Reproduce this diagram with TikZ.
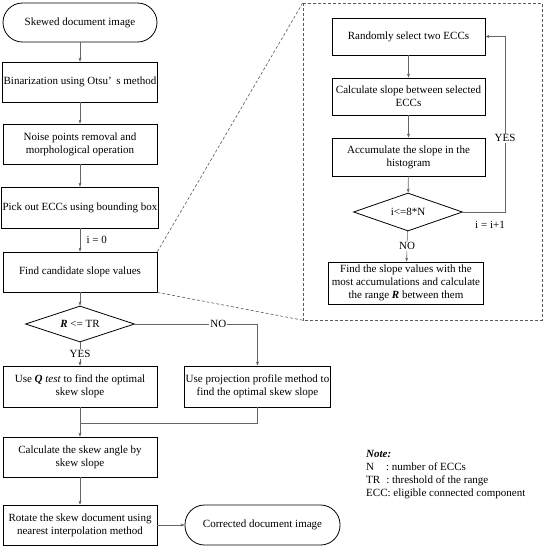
\documentclass[tikz,border=0pt]{standalone}
\usepackage{fontspec}
\setmainfont{Liberation Serif}
\usetikzlibrary{shapes.geometric,arrows.meta}
\begin{document}
\begin{tikzpicture}[x=1pt,y=-1pt,
  txt/.style={font=\fontsize{11}{13}\selectfont},
  box/.style={txt,draw=black,line width=0.8pt,rectangle,align=center,inner sep=1pt,minimum width=154pt,minimum height=40pt},
  term/.style={box,rounded corners=19.5pt},
  decis/.style={txt,draw=black,line width=0.8pt,diamond,aspect=2.9,inner sep=0pt},
  conn/.style={draw=black!60,line width=0.6pt,-{Stealth[length=4pt,width=3pt,fill=black]}},
  plain/.style={draw=black!60,line width=0.6pt},
  lbl/.style={txt,fill=white,inner sep=1pt},
  zoomline/.style={draw=black!65,line width=0.6pt,dash pattern=on 3pt off 2pt}]
\useasboundingbox (0,0) rectangle (545,550);

% left column
\node[term,minimum height=39pt] (start) at (80,22.5) {Skewed document image};
\node[box] (bin) at (80,82) {Binarization using Otsu’\,\ s method};
\node[box] (noise) at (80,144) {Noise points removal and\\morphological operation};
\node[box,minimum height=41pt] (pick) at (80,207.5) {Pick out ECCs using bounding box};
\node[box] (find) at (80,272) {Find candidate slope values};
\node[decis,minimum width=109pt,minimum height=36pt] (rtr) at (80,324) {\textbf{\textit{R}} <= TR};
\node[box,minimum height=41pt] (qtest) at (80,386.5) {Use \textbf{\textit{Q}} \textit{test} to find the optimal\\skew slope};
\node[box,minimum width=145pt,minimum height=41pt] (proj) at (257.5,386.5) {Use projection profile method to\\find the optimal skew slope};
\node[box] (calc) at (80,457) {Calculate the skew angle by\\skew slope};
\node[box] (rot) at (80,525) {Rotate the skew document using\\nearest interpolation method};
\node[term,minimum width=155pt] (corr) at (262.5,525) {Corrected document image};

% right (zoomed) column
\node[draw=none,minimum width=239pt,minimum height=317pt,inner sep=0pt] (zoomf) at (422.5,161.5) {};
\draw[zoomline] (zoomf.north west) rectangle (zoomf.south east);
\node[box,minimum width=153pt,minimum height=37pt] (rand) at (408.5,36.5) {Randomly select two ECCs};
\node[box,minimum width=153pt,minimum height=37pt] (cslope) at (408.5,96.5) {Calculate slope between selected\\ECCs};
\node[box,minimum width=153pt,minimum height=38pt] (accum) at (408.5,157) {Accumulate the slope in the\\histogram};
\node[decis,minimum width=109pt,minimum height=38pt] (loop) at (408,212) {i<=8*N};
\node[box,minimum width=155pt,minimum height=42pt] (findR) at (406,283) {Find the slope values with the\\most accumulations and calculate\\the range \textbf{\textit{R}} between them};

% connectors left
\draw[conn] (start) -- (bin);
\draw[conn] (bin) -- (noise);
\draw[conn] (noise) -- (pick);
\draw[conn] (pick) -- node[txt,right=3pt] {i = 0} (find);
\draw[conn] (find) -- (rtr);
\draw[conn] (rtr) -- node[lbl] {YES} (qtest);
\draw[conn] (rtr.east) -| node[lbl,pos=0.34] {NO} (proj.north);
\coordinate (merge) at (80,423);
\draw[conn] (qtest) -- (calc);
\draw[plain] (proj.south) |- (merge);
\draw[conn] (calc) -- (rot);
\draw[conn] (rot) -- (corr);

% connectors right
\draw[conn] (rand) -- (cslope);
\draw[conn] (cslope) -- (accum);
\draw[conn] (accum) -- (loop);
\draw[conn] (loop) -- node[lbl] {NO} (findR);
\coordinate (lc) at (505,212);
\draw[conn] (loop.east) -- (lc) |- node[lbl,pos=0.21] {YES} (rand.east);
\node[txt] (inc) at (490,225) {i = i+1};

% zoom guide lines
\draw[zoomline] (find.north east) -- (zoomf.north west);
\draw[zoomline] (find.south east) -- (zoomf.south west);

% note
\node[txt,anchor=north west,align=left,inner sep=0pt] (note) at (366,450)
  {\textbf{\textit{Note:}}\\
   N\hspace{12pt}: number of ECCs\\
   TR\hspace{6pt}: threshold of the range\\
   ECC: eligible connected component};
\end{tikzpicture}
\end{document}
